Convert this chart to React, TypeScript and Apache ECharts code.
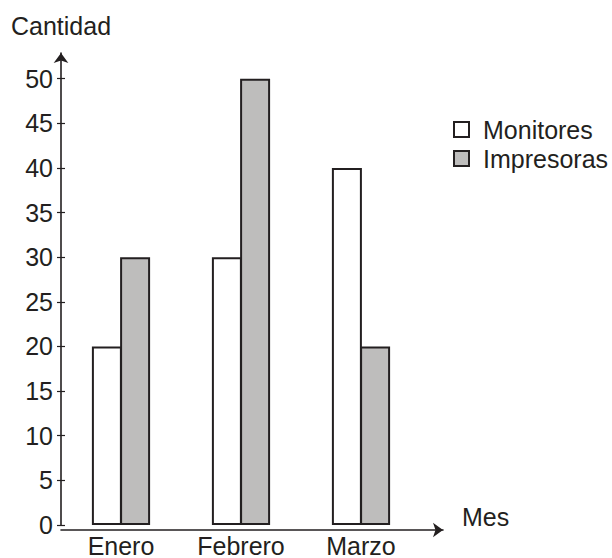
import React, { useEffect, useRef } from "react";
import * as echarts from "echarts";

const months = ["Enero", "Febrero", "Marzo"];
const monitores = [20, 30, 40];
const impresoras = [30, 50, 20];
const yTicks = [0, 5, 10, 15, 20, 25, 30, 35, 40, 45, 50];

const INK = "#231f20";
const GREY = "#bebdbc";
const FONT = "'Liberation Sans', Arial, sans-serif";

export default function App() {
  const ref = useRef<HTMLDivElement>(null);
  useEffect(() => {
    if (!ref.current) return;
    const chart = echarts.init(ref.current, undefined, { renderer: "svg" });
    const yMax = (530 - 53) / 9.02;
    chart.setOption({
      animation: false,
      backgroundColor: "#ffffff",
      textStyle: { fontFamily: FONT, color: INK },
      legend: {
        orient: "vertical",
        left: 448,
        top: 112,
        itemWidth: 15,
        itemHeight: 15,
        itemGap: 4,
        icon: "rect",
        itemStyle: { borderColor: INK, borderWidth: 2 },
        textStyle: {
          fontFamily: FONT,
          fontSize: 25,
          lineHeight: 24,
          color: INK,
          padding: [0, 0, 0, 9],
        },
        data: ["Monitores", "Impresoras"],
      },
      grid: [
        { left: 61, top: 53, bottom: 28, width: 360, containLabel: false },
        { left: 61, top: 53, bottom: 28, right: 612 - 443, containLabel: false },
      ],
      xAxis: [
        {
          type: "category",
          gridIndex: 0,
          data: months,
          axisLine: { show: false },
          axisTick: { show: false },
          axisLabel: {
            fontFamily: FONT,
            fontSize: 25,
            color: INK,
            margin: 8,
          },
        },
        {
          type: "value",
          gridIndex: 1,
          min: 0,
          max: 1,
          name: "Mes",
          nameLocation: "end",
          nameGap: 19,
          nameTextStyle: {
            fontFamily: FONT,
            fontSize: 25,
            color: INK,
            verticalAlign: "bottom",
            lineHeight: 26,
          },
          axisLine: {
            show: true,
            symbol: ["none", "arrow"],
            symbolSize: [11, 10],
            lineStyle: { color: INK, width: 1.6 },
          },
          axisTick: { show: false },
          axisLabel: { show: false },
          splitLine: { show: false },
        },
      ],
      yAxis: [
        {
          type: "value",
          gridIndex: 0,
          position: "left",
          offset: 0,
          min: 0,
          max: yMax,
          interval: 5,
          name: "Cantidad",
          nameLocation: "end",
          nameGap: 15,
          nameTextStyle: {
            fontFamily: FONT,
            fontSize: 25,
            color: INK,
          },
          axisLine: {
            show: true,
            symbol: ["none", "arrow"],
            symbolSize: [11, 10],
            lineStyle: { color: INK, width: 1.6 },
          },
          axisTick: {
            show: true,
            length: 4,
            lineStyle: { color: INK, width: 1.2 },
            customValues: yTicks,
          },
          axisLabel: {
            fontFamily: FONT,
            fontSize: 25,
            color: INK,
            margin: 8,
            customValues: yTicks,
          },
          splitLine: { show: false },
        },
        {
          type: "value",
          gridIndex: 1,
          show: false,
          min: 0,
          max: 1,
        },
        {
          type: "value",
          gridIndex: 0,
          position: "left",
          offset: 0,
          min: 0,
          max: yMax,
          interval: 5,
          axisLine: { show: false },
          axisTick: {
            show: true,
            inside: true,
            length: 4,
            lineStyle: { color: INK, width: 1.2 },
            customValues: yTicks,
          },
          axisLabel: { show: false },
          splitLine: { show: false },
        },
      ],
      series: [
        {
          name: "Monitores",
          type: "bar",
          xAxisIndex: 0,
          yAxisIndex: 0,
          data: monitores,
          barWidth: 30,
          barGap: "-6%",
          itemStyle: { color: "#ffffff", borderColor: INK, borderWidth: 2 },
        },
        {
          name: "Impresoras",
          type: "bar",
          xAxisIndex: 0,
          yAxisIndex: 0,
          data: impresoras,
          barWidth: 30,
          barGap: "-6%",
          itemStyle: { color: GREY, borderColor: INK, borderWidth: 2 },
        },
      ],
    });
    return () => chart.dispose();
  }, []);
  return (
    <div
      ref={ref}
      style={{ position: "absolute", left: 0, top: 0, width: 612, height: 558 }}
    />
  );
}
